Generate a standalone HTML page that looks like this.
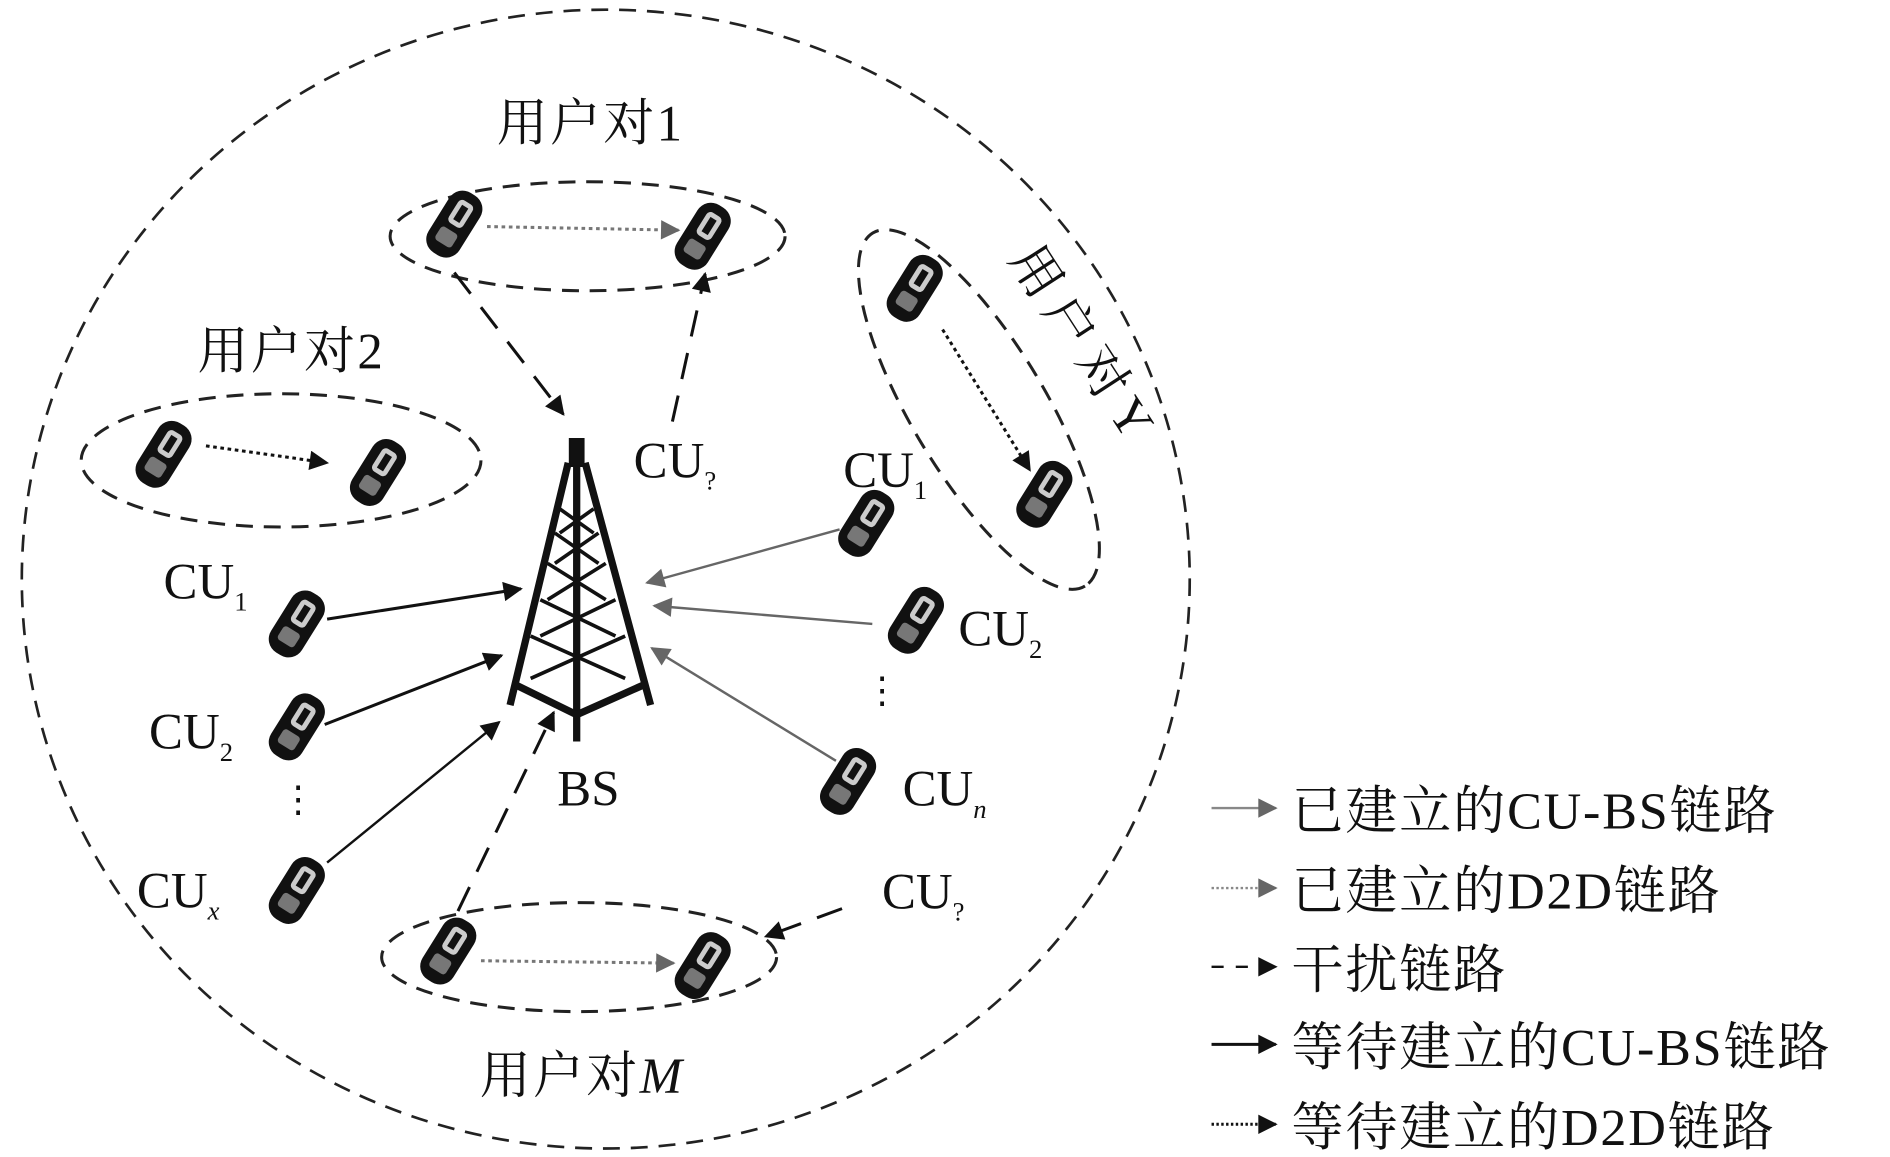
<!DOCTYPE html>
<html><head><meta charset="utf-8"><style>
html,body{margin:0;padding:0;background:#fff;}
svg{display:block}
text{font-family:"Liberation Serif","Noto Serif CJK SC",serif;fill:#111}
</style></head><body>
<svg width="1890" height="1157" viewBox="0 0 1560 955" preserveAspectRatio="none" xmlns="http://www.w3.org/2000/svg">
<defs>
<marker id="ak" viewBox="0 0 10 10" markerWidth="20" markerHeight="16" refX="9" refY="5" orient="auto" markerUnits="userSpaceOnUse"><path d="M0,0 L10,5 L0,10z" fill="#111"/></marker>
<marker id="ag" viewBox="0 0 10 10" markerWidth="20" markerHeight="16" refX="9" refY="5" orient="auto" markerUnits="userSpaceOnUse"><path d="M0,0 L10,5 L0,10z" fill="#666"/></marker>
<g id="ph">
<rect x="-15" y="-29" width="30" height="58" rx="13" fill="#111" transform="rotate(32)"/>
<rect x="-7" y="-21" width="14" height="22" rx="4" fill="#ccc" transform="rotate(32)"/>
<rect x="-8" y="6" width="16" height="13" rx="3" fill="#777" transform="rotate(32)"/>
<rect x="-3" y="-17" width="6" height="14" fill="#111" transform="rotate(32)"/>
</g>
</defs>

<ellipse cx="500" cy="478" rx="482" ry="470" fill="none" stroke="#222" stroke-width="2.2" stroke-dasharray="14,9"/>

<ellipse cx="485" cy="195" rx="163" ry="45" fill="none" stroke="#222" stroke-width="2.5" stroke-dasharray="14,9"/>
<ellipse cx="232" cy="380" rx="165" ry="55" fill="none" stroke="#222" stroke-width="2.5" stroke-dasharray="14,9"/>
<ellipse cx="808" cy="338" rx="170" ry="55" transform="rotate(59 808 338)" fill="none" stroke="#222" stroke-width="2.5" stroke-dasharray="14,9"/>
<ellipse cx="478" cy="790" rx="163" ry="45" fill="none" stroke="#222" stroke-width="2.5" stroke-dasharray="14,9"/>

<g stroke="#111" fill="none">
<line x1="476" y1="362" x2="476" y2="612" stroke-width="6"/>
<path d="M469 382 L421 582 M483 382 L537 582" stroke-width="6"/>
<path d="M425 565 L476 590 L532 565" stroke-width="6"/>
<path d="M462 420 L490 440 M490 420 L462 440 M458 440 L494 465 M494 440 L458 465 M452 465 L500 495 M500 465 L452 495 M446 495 L508 525 M508 495 L446 525 M438 525 L516 560 M516 525 L438 560" stroke-width="3"/>
<path d="M470 362 L482 362 L482 385 L470 385z" fill="#111" stroke-width="1"/>
</g>

<use href="#ph" x="375" y="185"/>
<use href="#ph" x="580" y="195"/>
<use href="#ph" x="135" y="375"/>
<use href="#ph" x="312" y="390"/>
<use href="#ph" x="755" y="238"/>
<use href="#ph" x="862" y="408"/>
<use href="#ph" x="715" y="432"/>
<use href="#ph" x="756" y="512"/>
<use href="#ph" x="700" y="645"/>
<use href="#ph" x="245" y="515"/>
<use href="#ph" x="245" y="600"/>
<use href="#ph" x="245" y="735"/>
<use href="#ph" x="370" y="785"/>
<use href="#ph" x="580" y="797"/>

<line x1="402" y1="187" x2="560" y2="190" stroke="#777" stroke-width="2.5" stroke-dasharray="3,3" marker-end="url(#ag)"/>
<line x1="170" y1="368" x2="270" y2="382" stroke="#111" stroke-width="2.5" stroke-dasharray="3,3" marker-end="url(#ak)"/>
<line x1="778" y1="272" x2="850" y2="388" stroke="#111" stroke-width="2.5" stroke-dasharray="3,3" marker-end="url(#ak)"/>
<line x1="397" y1="793" x2="556" y2="795" stroke="#777" stroke-width="2.5" stroke-dasharray="3,3" marker-end="url(#ag)"/>

<line x1="375" y1="225" x2="465" y2="342" stroke="#111" stroke-width="2.5" stroke-dasharray="22,14" marker-end="url(#ak)"/>
<line x1="555" y1="348" x2="582" y2="226" stroke="#111" stroke-width="2.5" stroke-dasharray="22,14" marker-end="url(#ak)"/>
<line x1="378" y1="752" x2="457" y2="588" stroke="#111" stroke-width="2.5" stroke-dasharray="22,14" marker-end="url(#ak)"/>
<line x1="695" y1="750" x2="632" y2="773" stroke="#111" stroke-width="2.5" stroke-dasharray="22,14" marker-end="url(#ak)"/>

<line x1="270" y1="511" x2="430" y2="486" stroke="#111" stroke-width="2.5" marker-end="url(#ak)"/>
<line x1="268" y1="598" x2="414" y2="541" stroke="#111" stroke-width="2.5" marker-end="url(#ak)"/>
<line x1="270" y1="712" x2="412" y2="596" stroke="#111" stroke-width="2" marker-end="url(#ak)"/>
<line x1="693" y1="437" x2="534" y2="481" stroke="#666" stroke-width="2" marker-end="url(#ag)"/>
<line x1="720" y1="515" x2="540" y2="500" stroke="#666" stroke-width="2" marker-end="url(#ag)"/>
<line x1="690" y1="628" x2="538" y2="535" stroke="#666" stroke-width="2" marker-end="url(#ag)"/>

<g font-size="42">
<text x="410" y="116" letter-spacing="2">用户对1</text>
<text x="163" y="304" letter-spacing="2">用户对2</text>
<text x="396" y="902" letter-spacing="2">用户对<tspan font-style="italic">M</tspan></text>
<text x="832" y="214" transform="rotate(57 832 214)" letter-spacing="8">用户对Y</text>
<text x="460" y="665">BS</text>
</g>
<g font-size="42">
<text x="523" y="394">CU<tspan font-size="22" dy="10">?</tspan></text>
<text x="696" y="402">CU<tspan font-size="22" dy="10">1</tspan></text>
<text x="135" y="494">CU<tspan font-size="22" dy="10">1</tspan></text>
<text x="123" y="618">CU<tspan font-size="22" dy="10">2</tspan></text>
<text x="113" y="749">CU<tspan font-size="22" dy="10" font-style="italic">x</tspan></text>
<text x="791" y="533">CU<tspan font-size="22" dy="10">2</tspan></text>
<text x="745" y="665">CU<tspan font-size="22" dy="10" font-style="italic">n</tspan></text>
<text x="728" y="750">CU<tspan font-size="22" dy="10">?</tspan></text>
<text x="231" y="670" font-size="30">⋮</text>
<text x="713" y="580" font-size="30">⋮</text>
</g>

<g>
<line x1="1000" y1="667" x2="1053" y2="667" stroke="#888" stroke-width="2" marker-end="url(#ag)"/>
<line x1="1000" y1="733" x2="1053" y2="733" stroke="#888" stroke-width="2" stroke-dasharray="2,2" marker-end="url(#ag)"/>
<line x1="1000" y1="798" x2="1053" y2="798" stroke="#111" stroke-width="2" stroke-dasharray="10,10" marker-end="url(#ak)"/>
<line x1="1000" y1="862" x2="1053" y2="862" stroke="#111" stroke-width="2.5" marker-end="url(#ak)"/>
<line x1="1000" y1="928" x2="1053" y2="928" stroke="#111" stroke-width="2.5" stroke-dasharray="2,2" marker-end="url(#ak)"/>
<g font-size="43" letter-spacing="1.5">
<text x="1066" y="684">已建立的CU-BS链路</text>
<text x="1066" y="750">已建立的D2D链路</text>
<text x="1066" y="815">干扰链路</text>
<text x="1066" y="879">等待建立的CU-BS链路</text>
<text x="1066" y="945">等待建立的D2D链路</text>
</g>
</g>
</svg>
</body></html>
